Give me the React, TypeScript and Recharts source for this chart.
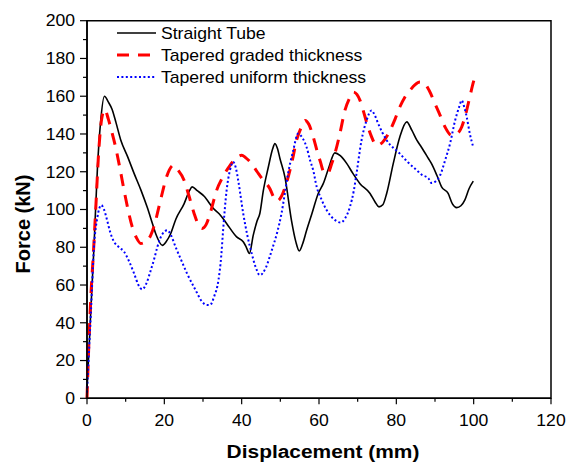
import { LineChart, Line, XAxis, YAxis, ReferenceArea, Legend } from "recharts";

const FONT = "Arial, 'Liberation Sans', sans-serif";

const SERIES_NAMES = ["Straight Tube", "Tapered graded thickness", "Tapered uniform thickness"];
const X_TICKS = [0, 10, 20, 30, 40, 50, 60, 70, 80, 90, 100, 110, 120];
const Y_TICKS = [0, 10, 20, 30, 40, 50, 60, 70, 80, 90, 100, 110, 120, 130, 140, 150, 160, 170, 180, 190, 200];

// Straight tube (solid black)
const STRAIGHT_X = [
  0, 0.5, 1, 1.8, 2.7, 3.5, 4.5, 5.5, 6.5, 7.5, 8.7, 10.5, 12.2, 14, 15.6, 17, 17.8, 19.5, 20.5, 21.6,
  23, 25.1, 26.5, 27.2, 28.5, 30.3, 32.7, 34.5, 36.1, 38.7, 40.4, 41.2, 42, 43, 44, 44.7, 45.6, 46.9, 48, 48.6,
  49.3, 49.9, 51.2, 52.9, 54, 54.9, 55.8, 56.8, 58.2, 59.8, 61.1, 62.5, 64.1, 65.5, 67.2, 68.8, 70.6, 73.2, 74.5, 75.5,
  76.5, 77.5, 79.2, 80.9, 82.7, 84, 85.3, 86.5, 88.3, 89.1, 90.5, 91.7, 93.4, 94.5, 95.6, 96.7, 97.7, 98.8, 99.9,
];
const STRAIGHT_Y = [
  5, 25, 47, 80, 122, 146, 160, 157, 153, 146, 137, 128, 119, 110, 101, 92, 87, 81, 83, 87,
  95, 103, 110, 112, 110, 107, 100.5, 97, 92.6, 85.5, 82.9, 80, 76.7, 86.4, 94, 97.9, 110, 122.5, 132, 134.9,
  132, 127, 117, 94, 83, 78, 82, 89, 98, 108.5, 113.7, 122, 130, 128.5, 124.3, 119, 113.7, 108.5, 104, 101.4,
  102.5, 108.5, 124.3, 138.4, 146.4, 142, 136.7, 133, 127, 124.3, 118, 112, 108.5, 103, 101, 102, 105, 111, 115,
];

// Tapered graded thickness (red dashed)
const GRADED_X = [
  0, 0.5, 1, 1.6, 2.2, 3.1, 3.8, 4.6, 5.5, 6.3, 7.4, 8.5, 9.6, 10.6, 11.7, 12.8, 13.9, 15.2, 16.5, 17.6,
  18.6, 19.5, 20.3, 21.3, 22.3, 23.5, 25.1, 26.4, 27.7, 28.8, 29.8, 30.8, 32, 33.5, 35.2, 37, 38.5, 40, 41, 42.2,
  44, 45.2, 47.3, 48.3, 49.2, 50.3, 51.8, 53.2, 54.2, 55.3, 56.4, 57.4, 58.5, 59.5, 60.4, 61.2, 62.2, 63.3, 64.3, 65.4,
  66.7, 67.8, 68.9, 69.8, 70.6, 71.5, 72.3, 73.5, 74.9, 76.4, 78.4, 79.7, 80.9, 82.2, 83.5, 84.8, 86.1, 87, 88.5, 90,
  91.3, 92.6, 94.3, 95.6, 96.9, 98, 99, 100, 100.6,
];
const GRADED_Y = [
  0, 30, 54, 75, 98, 133, 148, 153, 148, 142, 133, 122, 110, 100, 90.8, 85, 82, 83, 86.4, 93,
  101.4, 109, 115.5, 121, 123.4, 121, 115.5, 107, 97.9, 92, 90, 92, 99, 110, 117.5, 123.4, 127, 128.7, 127.5, 125.2,
  120, 116.5, 111, 106.5, 104.5, 107, 115.5, 127, 136.7, 143, 147.2, 145, 138.5, 131, 125, 120, 119, 124.3, 131, 140.2,
  152.5, 158.5, 162.2, 161, 157.8, 152, 146.3, 139, 134, 135.5, 142, 148, 154.3, 159.5, 163, 166, 167.5, 167.3, 163, 156,
  150, 143.7, 139.3, 140, 143.7, 151, 159.6, 168, 171.6,
];

// Tapered uniform thickness (blue dotted)
const UNIFORM_X = [
  0, 0.4, 1, 1.8, 2.7, 3.7, 4.4, 5.2, 6, 7, 8.3, 9.6, 11, 12.2, 13.3, 14.3, 15.4, 16.5, 17.4, 18.2,
  19.5, 20.8, 21.8, 22.9, 24.4, 25.9, 27.9, 29.8, 30.8, 31.8, 32.9, 34, 34.7, 35.2, 36.1, 37, 37.8, 38.5, 39.1, 40.4,
  41.5, 42.6, 43.7, 44.7, 46.2, 47.8, 49.2, 50.3, 51.2, 52, 53.3, 54.6, 55.7, 56.8, 57.7, 58.5, 59.4, 60.5, 62, 63.8,
  65.6, 66.8, 68, 69, 69.7, 71, 72.3, 73.6, 74.4, 75.3, 77.5, 80.9, 83, 85.3, 86.5, 88.3, 89.1, 90.2, 91.3, 92.6,
  93.9, 95.2, 96.2, 96.9, 97.6, 98.2, 99, 99.9,
];
const UNIFORM_Y = [
  3, 20, 45, 80, 96, 102.3, 100, 94.3, 88, 82.9, 80, 77.6, 72, 66, 60, 57.7, 61, 67.9, 74, 80.2,
  87, 89, 86, 80.2, 73, 66, 58, 51.1, 49.5, 49.4, 54, 62.6, 75, 89, 110, 121, 125.2, 122, 115.5, 97.9,
  86, 76.7, 69, 65.2, 69, 78.5, 88, 97.9, 109, 119, 131, 140.2, 138, 133, 126, 120.8, 112, 106, 99.6, 95,
  93.1, 95.5, 101.4, 110, 119, 136.7, 147.2, 152.5, 150, 145.5, 136.7, 129.6, 125, 120.8, 118.5, 116.5, 114, 115, 118, 126,
  135, 147.2, 154, 157.8, 154, 149, 140.2, 133,
];

const toPoints = (xs: number[], ys: number[]) => xs.map((x, i) => ({ x, y: ys[i] }));

const straightData = toPoints(STRAIGHT_X, STRAIGHT_Y);
const gradedData = toPoints(GRADED_X, GRADED_Y);
const uniformData = toPoints(UNIFORM_X, UNIFORM_Y);

const STYLES = [
  { stroke: "#000000", strokeWidth: 1.6, dash: undefined },
  { stroke: "#ff0000", strokeWidth: 3, dash: "12 9" },
  { stroke: "#0000ff", strokeWidth: 2, dash: "2 2.4" },
];

function XTick({ x, y, payload }: any) {
  const major = payload.value % 20 === 0;
  return (
    <g>
      <line x1={x} x2={x} y1={y} y2={y + (major ? 6 : 3.5)} stroke="#000" strokeWidth={1.2} />
      {major && (
        <text
          transform={`translate(${x},${y + 28}) scale(1.1,1)`}
          textAnchor="middle"
          fontSize={16}
          fontFamily={FONT}
          fill="#000"
        >
          {payload.value}
        </text>
      )}
    </g>
  );
}

function YTick({ x, y, payload }: any) {
  const major = payload.value % 20 === 0;
  return (
    <g>
      <line x1={x} x2={x - (major ? 7 : 4)} y1={y} y2={y} stroke="#000" strokeWidth={1.2} />
      {major && (
        <text
          transform={`translate(${x - 12},${y}) scale(1.1,1)`}
          textAnchor="end"
          dy="0.36em"
          fontSize={16}
          fontFamily={FONT}
          fill="#000"
        >
          {payload.value}
        </text>
      )}
    </g>
  );
}

const renderLegend = () => (
  <svg width={290} height={70} style={{ overflow: "visible" }}>
    {SERIES_NAMES.map((name, i) => (
      <g key={name}>
        <line
          x1={0}
          x2={39}
          y1={11 + 22 * i}
          y2={11 + 22 * i}
          stroke={STYLES[i].stroke}
          strokeWidth={STYLES[i].strokeWidth}
          strokeDasharray={STYLES[i].dash}
        />
        <text
          transform={`translate(44,${11 + 22 * i}) scale(1.1,1)`}
          dy="0.36em"
          fontSize={16}
          fontFamily={FONT}
          fill="#000"
        >
          {name}
        </text>
      </g>
    ))}
  </svg>
);

export default function App() {
  return (
    <div style={{ position: "absolute", left: 0, top: 0, background: "#fff" }}>
      <LineChart width={566} height={464} margin={{ top: 20.7, right: 15, bottom: 35.7, left: 27 }}>
        <XAxis
          dataKey="x"
          type="number"
          domain={[0, 120]}
          ticks={X_TICKS}
          interval={0}
          tickSize={0}
          tickMargin={0}
          tick={<XTick />}
          axisLine={{ stroke: "#000", strokeWidth: 1.5 }}
          height={30}
          label={{
            content: () => (
              <text
                transform="translate(323,458) scale(1.1,1)"
                textAnchor="middle"
                fontSize={19}
                fontWeight="bold"
                fontFamily={FONT}
                fill="#000"
              >
                Displacement (mm)
              </text>
            ),
          }}
        />
        <YAxis
          type="number"
          domain={[0, 200]}
          ticks={Y_TICKS}
          interval={0}
          tickSize={0}
          tickMargin={0}
          tick={<YTick />}
          axisLine={{ stroke: "#000", strokeWidth: 1.5 }}
          width={60}
          label={{
            content: () => (
              <text
                transform="translate(30,224) rotate(-90)"
                textAnchor="middle"
                fontSize={20}
                fontWeight="bold"
                fontFamily={FONT}
                fill="#000"
              >
                Force (kN)
              </text>
            ),
          }}
        />
        <ReferenceArea x1={0} x2={120} y1={0} y2={200} fill="none" stroke="#000" strokeWidth={1.5} />
        <Line
          data={straightData}
          dataKey="y"
          name={SERIES_NAMES[0]}
          type="monotone"
          stroke={STYLES[0].stroke}
          strokeWidth={STYLES[0].strokeWidth}
          dot={false}
          isAnimationActive={false}
        />
        <Line
          data={gradedData}
          dataKey="y"
          name={SERIES_NAMES[1]}
          type="monotone"
          stroke={STYLES[1].stroke}
          strokeWidth={STYLES[1].strokeWidth}
          strokeDasharray={STYLES[1].dash}
          dot={false}
          isAnimationActive={false}
        />
        <Line
          data={uniformData}
          dataKey="y"
          name={SERIES_NAMES[2]}
          type="monotone"
          stroke={STYLES[2].stroke}
          strokeWidth={STYLES[2].strokeWidth}
          strokeDasharray={STYLES[2].dash}
          dot={false}
          isAnimationActive={false}
        />
        <Legend
          content={renderLegend}
          layout="vertical"
          align="center"
          verticalAlign="middle"
          wrapperStyle={{ position: "absolute", left: 117, top: 22, width: 290, height: 70 }}
        />
      </LineChart>
    </div>
  );
}
